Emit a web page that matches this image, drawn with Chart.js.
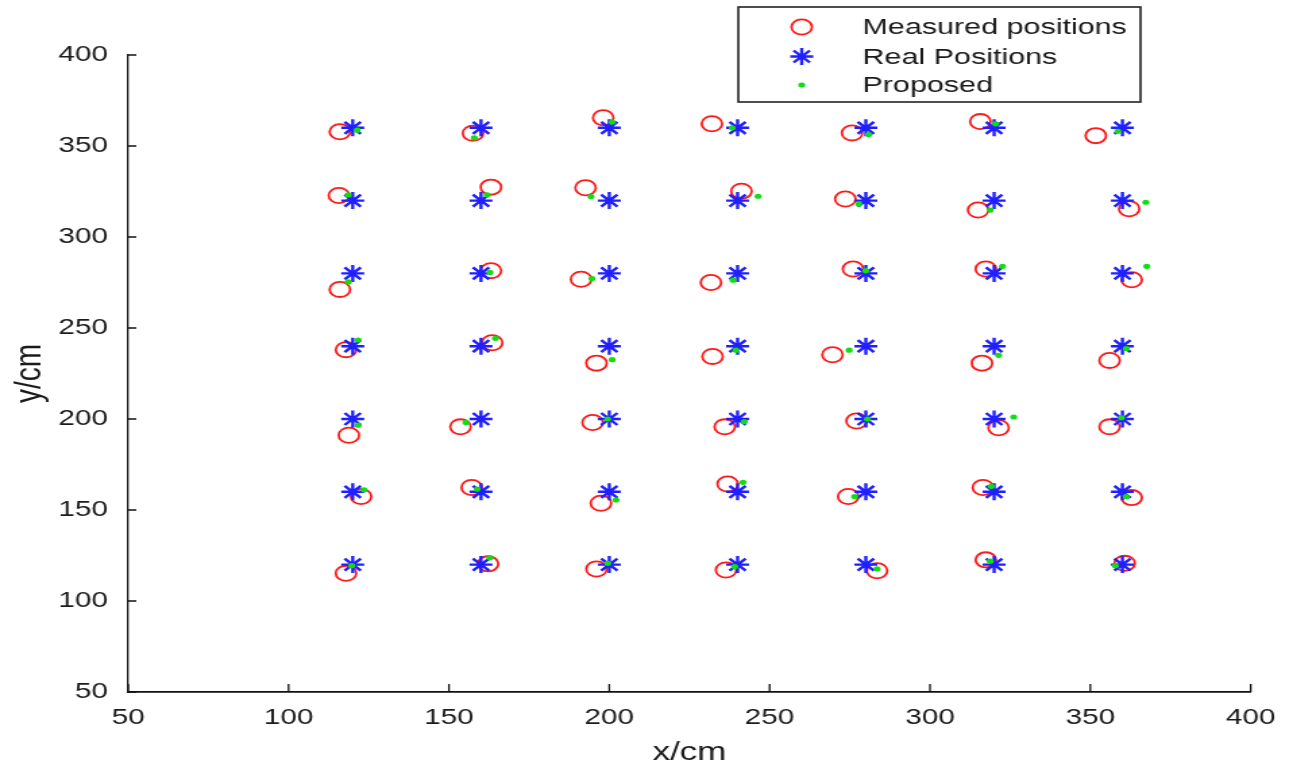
<!DOCTYPE html>
<html><head><meta charset="utf-8">
<script src="https://cdn.jsdelivr.net/npm/chart.js@4.4.0/dist/chart.umd.min.js"></script>
<style>
html,body{margin:0;padding:0;background:#fff;overflow:hidden;}
#wrap{width:958px;height:769px;transform:scaleX(1.3497);transform-origin:0 0;}
canvas{display:block;}
</style></head><body>
<div id="wrap"><canvas id="c" width="958" height="769"></canvas></div>
<script>
// Grid of real positions (cm)
const gridX = [120, 160, 200, 240, 280, 320, 360];
const gridY = [360, 320, 280, 240, 200, 160, 120];

// Measured positions, row by row (top row first)
const measuredX = [
  116.0, 157.5, 198.1, 232.0, 275.7, 315.7, 351.7,
  115.7, 163.1, 192.6, 241.2, 273.6, 315.0, 362.1,
  116.0, 163.1, 191.2, 231.7, 276.0, 317.4, 362.9,
  117.9, 163.5, 196.0, 232.2, 269.6, 316.2, 356.0,
  118.8, 153.6, 194.8, 236.0, 277.1, 321.4, 356.0,
  122.6, 157.1, 197.4, 236.9, 274.5, 316.5, 362.9,
  117.9, 162.2, 196.0, 236.4, 283.5, 317.4, 360.7
];
const measuredY = [
  357.8, 357.0, 365.5, 362.2, 357.2, 363.4, 355.7,
  322.8, 327.4, 327.1, 325.2, 320.9, 314.8, 315.5,
  271.2, 281.5, 276.8, 275.0, 282.4, 282.4, 276.5,
  238.1, 241.9, 230.7, 234.4, 235.3, 230.7, 232.2,
  191.1, 195.7, 198.1, 195.7, 198.9, 195.2, 195.7,
  157.4, 162.4, 153.7, 164.3, 157.4, 162.4, 156.8,
  115.2, 120.4, 117.6, 117.0, 116.6, 122.6, 120.7
];

// Proposed estimates, row by row (top row first)
const proposedX = [
  121.4, 157.9, 200.9, 238.3, 280.9, 320.5, 358.6,
  118.6, 161.9, 194.3, 246.4, 277.8, 318.8, 367.3,
  118.6, 162.8, 194.6, 238.6, 280.0, 322.6, 367.6,
  121.7, 164.5, 200.9, 239.5, 274.8, 321.4, 361.2,
  121.7, 155.3, 199.5, 242.1, 280.5, 326.1, 359.7,
  123.5, 158.8, 202.1, 241.7, 276.5, 319.1, 361.2,
  119.7, 162.8, 199.5, 239.1, 283.5, 318.8, 357.8
];
const proposedY = [
  358.7, 354.5, 363.2, 360.0, 356.3, 362.2, 358.1,
  323.2, 323.2, 322.2, 322.4, 318.1, 314.8, 319.1,
  275.3, 280.6, 277.2, 276.3, 281.5, 283.9, 283.9,
  243.4, 244.3, 232.6, 237.8, 237.8, 235.0, 238.7,
  196.6, 198.1, 200.0, 198.5, 200.0, 201.1, 200.7,
  161.1, 161.5, 155.5, 165.2, 157.4, 163.0, 157.4,
  119.4, 123.7, 120.7, 118.9, 117.6, 121.9, 119.4
];

const xTicks = [50, 100, 150, 200, 250, 300, 350, 400];
const yTicks = [50, 100, 150, 200, 250, 300, 350, 400];
const seriesNames = ['Measured positions', 'Real Positions', 'Proposed'];
const xTitle = 'x/cm';
const yTitle = 'y/cm';

const realPts = [];
gridY.forEach(y => gridX.forEach(x => realPts.push({x, y})));
const measuredPts = measuredX.map((x, i) => ({x, y: measuredY[i]}));
const proposedPts = proposedX.map((x, i) => ({x, y: proposedY[i]}));

const FONT = "'Liberation Sans', Arial, sans-serif";
const TXT = '#1a1a1a';

const styles = [
  {pointStyle: 'circle', radius: 7.6, borderWidth: 1.8, borderColor: '#ff1a1a', backgroundColor: 'rgba(0,0,0,0)'},
  {pointStyle: 'star', radius: 8.5, borderWidth: 2.4, borderColor: '#1f1fff', backgroundColor: '#1f1fff'},
  {pointStyle: 'circle', radius: 2.6, borderWidth: 0, borderColor: '#11dd11', backgroundColor: '#11dd11'}
];

const inwardTicks = {
  id: 'inwardTicks',
  afterDatasetsDraw(chart) {
    const ctx = chart.ctx, xs = chart.scales.x, ys = chart.scales.y, a = chart.chartArea;
    ctx.save();
    ctx.strokeStyle = '#111';
    ctx.lineWidth = 1.3;
    ctx.beginPath();
    xTicks.forEach(v => { const p = xs.getPixelForValue(v); ctx.moveTo(p, a.bottom); ctx.lineTo(p, a.bottom - 8); });
    ys.ticks.forEach(t => { const p = ys.getPixelForValue(t.value); ctx.moveTo(a.left, p); ctx.lineTo(a.left + 6, p); });
    ctx.stroke();
    ctx.restore();
  }
};

const boxLegend = {
  id: 'boxLegend',
  afterDraw(chart) {
    const ctx = chart.ctx;
    ctx.save();
    ctx.fillStyle = '#fff';
    ctx.fillRect(547, 7, 298, 95);
    ctx.strokeStyle = '#222';
    ctx.lineWidth = 1.6;
    ctx.strokeRect(547, 7, 298, 95);
    const rows = [27, 56.5, 85];
    seriesNames.forEach((name, i) => {
      const s = styles[i];
      ctx.strokeStyle = s.borderColor;
      ctx.fillStyle = s.backgroundColor;
      ctx.lineWidth = s.borderWidth;
      Chart.helpers.drawPoint(ctx, {pointStyle: s.pointStyle, radius: s.radius, rotation: 0, borderWidth: s.borderWidth}, 594, rows[i]);
      ctx.fillStyle = TXT;
      ctx.font = '22.6px ' + FONT;
      ctx.textAlign = 'left';
      ctx.textBaseline = 'middle';
      ctx.fillText(name, 639, rows[i] + 1);
    });
    ctx.restore();
  }
};

new Chart(document.getElementById('c'), {
  type: 'scatter',
  data: {
    datasets: [
      Object.assign({label: seriesNames[0], data: measuredPts, order: 3}, styles[0],
        {pointRadius: styles[0].radius, pointBorderWidth: styles[0].borderWidth, pointBorderColor: styles[0].borderColor, pointBackgroundColor: styles[0].backgroundColor}),
      Object.assign({label: seriesNames[1], data: realPts, order: 2}, styles[1],
        {pointRadius: styles[1].radius, pointBorderWidth: styles[1].borderWidth, pointBorderColor: styles[1].borderColor, pointBackgroundColor: styles[1].backgroundColor}),
      Object.assign({label: seriesNames[2], data: proposedPts, order: 1}, styles[2],
        {pointRadius: styles[2].radius, pointBorderWidth: styles[2].borderWidth, pointBorderColor: styles[2].borderColor, pointBackgroundColor: styles[2].backgroundColor})
    ]
  },
  options: {
    responsive: false,
    maintainAspectRatio: false,
    animation: false,
    events: [],
    layout: {padding: {top: 55, right: 30, left: 0, bottom: 0}},
    plugins: {legend: {display: false}, tooltip: {enabled: false}},
    scales: {
      x: {
        type: 'linear', min: 50, max: 400,
        afterBuildTicks: s => { s.ticks = xTicks.map(v => ({value: v})); },
        afterFit: s => { s.height = 77; },
        grid: {display: false, drawTicks: false},
        border: {display: true, color: '#111', width: 1.8},
        ticks: {font: {family: FONT, size: 22}, color: TXT, padding: 13, maxRotation: 0, autoSkip: false},
        title: {display: true, text: xTitle, font: {family: FONT, size: 26}, color: TXT, padding: {top: 0, bottom: 1}}
      },
      y: {
        type: 'linear', min: 50, max: 400,
        afterBuildTicks: s => { s.ticks = yTicks.map(v => ({value: v})); },
        afterFit: s => { s.width = 95; },
        grid: {display: false, drawTicks: false},
        border: {display: true, color: '#111', width: 1.3},
        ticks: {font: {family: FONT, size: 22}, color: TXT, padding: 15, autoSkip: false},
        title: {display: true, text: yTitle, font: {family: FONT, size: 28}, color: TXT, padding: {top: 5, bottom: 0}}
      }
    }
  },
  plugins: [inwardTicks, boxLegend]
});
</script>
</body></html>
